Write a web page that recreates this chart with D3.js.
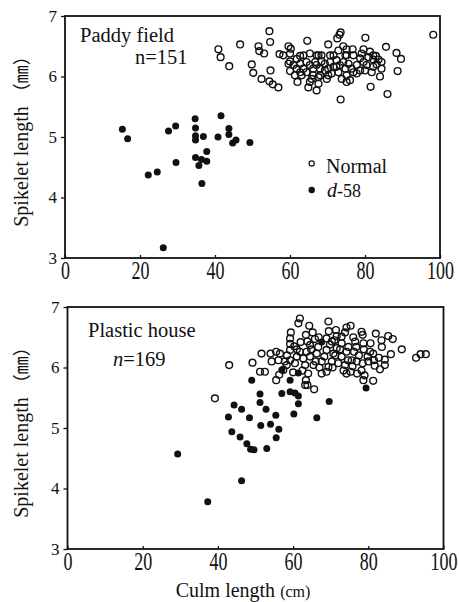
<!DOCTYPE html>
<meta charset="utf-8" />
<html>
<style>
  body { margin: 0; background: #fff; }
  text { font-family: "Liberation Serif", "DejaVu Serif", serif; fill: #111; }
</style>
<body>
<svg width="459" height="602"></svg>
<script src="https://d3js.org/d3.v7.min.js"></script>
<script>
  // ---- data: [culm length (cm), spikelet length (mm)] ----
  var paddyNormal = [
    [40.9,6.45],[41.5,6.32],[43.8,6.17],[46.7,6.53],[51.6,6.50],[51.8,6.42],[53.1,6.38],
    [54.5,6.75],[54.7,6.57],[49.8,6.20],[50.2,6.06],[54.8,6.10],[52.4,5.96],[54.5,5.92],
    [55.4,5.87],[56.9,5.82],[57.2,6.37],[58.2,6.35],[59.6,6.50],[60.2,6.46],[60.0,6.38],
    [64.6,6.59],[62.7,6.34],[65.3,6.38],[67.6,6.35],[70.2,6.53],[70.7,6.35],[72.6,6.63],
    [73.2,6.69],[73.5,6.73],[74.2,6.50],[75.1,6.45],[76.7,6.45],[80.1,6.64],[79.6,6.45],
    [81.3,6.41],[82.2,6.28],[82.9,6.34],[85.6,6.49],[88.4,6.39],[89.6,6.29],[88.7,6.09],
    [84.4,6.13],[84.0,6.00],[81.5,5.83],[86.0,5.71],[73.5,5.62],[67.1,5.77],[64.9,5.82],
    [62.0,5.91],[59.6,6.21],[60.0,6.09],[61.8,6.13],[62.7,6.21],[64.4,6.24],[66.7,6.24],
    [68.4,6.25],[70.7,6.24],[72.4,6.27],[74.2,6.24],[76.4,6.13],[77.8,6.19],[79.6,6.24],
    [80.9,6.32],[83.1,6.20],[60.0,6.25],[61.3,6.02],[63.1,6.02],[64.4,6.07],[66.2,6.13],
    [67.6,5.99],[69.3,6.10],[71.1,6.05],[72.9,6.07],[75.1,6.02],[75.1,5.91],[76.9,6.07],
    [78.7,6.10],[80.4,6.19],[82.2,6.16],[67.6,5.88],[69.8,5.96],[71.6,6.16],[65.8,5.96],
    [63.6,6.13],[78.7,6.30],[82.2,6.35],[74.8,6.35],[74.8,6.13],[68.0,6.13],[67.1,6.35],
    [98.2,6.69],[60.9,6.19],[65.3,6.19],[69.3,6.21],[73.3,6.19],[75.6,6.21],[61.8,6.29],
    [63.6,6.35],[68.4,6.35],[71.6,6.35],[72.9,6.43],[75.1,6.35],[76.9,6.35],[79.1,6.38],
    [83.6,6.28],[84.4,6.24],[66.2,6.02],[68.0,6.02],[70.2,6.02],[73.8,5.96],[76.0,5.94],
    [77.8,6.05],[80.0,6.10],[81.8,6.07],[65.3,5.91],[62.7,6.07],[72.4,6.16],[70.2,6.13],
    [67.1,6.19]
  ];
  var paddyD58 = [
    [15.3,5.13],[16.7,4.97],[27.6,5.10],[29.5,5.18],[34.7,5.30],[41.6,5.35],[34.8,5.15],
    [34.8,5.02],[34.8,4.95],[36.9,5.01],[40.8,5.00],[43.7,5.14],[43.7,5.04],[45.6,4.95],
    [44.7,4.90],[49.3,4.91],[37.8,4.76],[34.8,4.66],[36.4,4.63],[37.8,4.60],[35.7,4.53],
    [29.6,4.58],[24.6,4.42],[22.2,4.37],[36.5,4.23],[26.2,3.17]
  ];
  var houseNormal = [
    [39.2,5.49],[43.0,6.04],[49.2,6.08],[51.6,6.23],[51.2,5.93],[52.5,5.93],[54.0,6.23],
    [55.5,6.26],[56.5,6.23],[54.3,6.10],[56.1,6.12],[55.5,5.79],[56.3,5.88],[61.8,6.81],
    [61.4,6.73],[64.3,6.69],[69.4,6.76],[59.4,6.58],[59.2,6.48],[59.2,6.39],[59.2,6.29],
    [59.2,6.12],[63.4,6.54],[63.8,6.43],[64.5,6.37],[63.4,5.79],[63.8,5.71],[65.6,5.64],
    [71.4,6.62],[71.6,6.52],[74.2,6.66],[75.3,6.69],[78.2,6.59],[78.5,6.54],[82.0,6.56],
    [85.3,6.52],[86.5,6.47],[88.9,6.30],[83.6,6.34],[81.3,6.23],[84.4,6.13],[84.4,6.04],
    [83.1,5.97],[92.7,6.16],[93.9,6.22],[95.3,6.22],[81.3,5.78],[78.7,5.79],[78.2,5.95],
    [78.5,6.07],[75.3,5.93],[74.2,5.90],[75.6,6.12],[76.2,6.26],[78.7,6.40],[80.5,6.26],
    [68.9,5.93],[69.4,6.01],[67.6,5.90],[66.3,6.23],[67.6,6.10],[70.3,6.10],[72.0,6.07],
    [72.9,6.18],[70.7,6.23],[68.9,6.29],[68.9,6.48],[70.3,6.43],[72.9,6.40],[74.7,6.34],
    [76.5,6.43],[72.9,6.51],[66.7,6.34],[64.5,6.18],[62.7,6.15],[61.0,6.18],[61.8,6.26],
    [63.6,6.26],[60.5,6.07],[58.3,6.04],[57.4,5.96],[65.4,6.04],[63.2,6.04],[65.8,6.47],
    [61.0,6.30],[73.8,6.04],[76.9,6.10],[80.0,6.10],[81.5,6.12],[74.2,6.26],[71.6,6.32],
    [60.3,6.35],[62.0,6.42],[64.8,6.30],[66.0,6.10],[67.0,6.00],[68.3,6.18],[69.8,6.38],
    [70.5,6.00],[71.2,6.20],[72.5,6.30],[73.4,5.95],[74.6,6.12],[75.8,6.02],[76.8,6.34],
    [77.5,6.20],[78.8,6.30],[79.8,6.18],[80.6,6.40],[81.7,6.03],[82.8,6.16],[83.5,6.45],
    [58.4,6.20],[60.0,5.92],[62.5,5.95],[64.0,5.90],[66.8,6.50],[69.5,6.60],[71.0,6.45],
    [73.8,6.58],[76.0,6.50],[77.0,5.90],[79.0,5.87],[86.0,6.22],[57.8,6.10],[65.2,6.58],
    [63.2,5.71]
  ];
  var houseD58 = [
    [51.2,5.56],[51.2,5.42],[57.0,5.57],[59.2,5.60],[60.5,5.58],[61.4,5.53],[61.4,5.40],
    [69.6,5.44],[44.3,5.38],[46.3,5.31],[42.8,5.18],[48.4,5.17],[52.8,5.31],[55.4,5.21],
    [60.2,5.23],[66.3,5.17],[51.4,5.04],[54.0,5.06],[56.2,4.98],[43.7,4.94],[45.9,4.85],
    [47.7,4.74],[48.7,4.65],[49.6,4.64],[53.0,4.66],[55.5,4.84],[46.3,4.13],[37.3,3.78],
    [29.3,4.57],[67.6,6.42],[57.0,5.96],[61.4,5.91],[49.0,5.79],[59.2,5.79],[79.4,5.66]
  ];
  var xTicks = [0, 20, 40, 60, 80, 100];
  var yTicks = [3, 4, 5, 6, 7];

  var svg = d3.select("svg");

  // panel boxes (pixels)
  var panels = [
    { box: {l: 65, r: 440, t: 16, b: 258}, normal: paddyNormal, d58: paddyD58 },
    { box: {l: 67.5, r: 443.5, t: 307, b: 549}, normal: houseNormal, d58: houseD58 }
  ];

  panels.forEach(function (p) {
    var b = p.box;
    var x = d3.scaleLinear().domain([0, 100]).range([b.l, b.r]);
    var y = d3.scaleLinear().domain([3, 7]).range([b.b, b.t]);

    var g = svg.append("g");

    // left axis, ticks outward
    var ya = g.append("g")
      .attr("transform", "translate(" + b.l + ",0)")
      .call(d3.axisLeft(y).tickValues(yTicks).tickSize(4).tickPadding(4).tickFormat(d3.format("d")));
    ya.select(".domain").remove();
    ya.selectAll("line").attr("stroke", "#111").attr("stroke-width", 1.3);
    ya.selectAll("text").attr("font-size", 17).style("font-family", "Liberation Serif");

    // bottom axis, ticks inward, tall condensed labels
    var xa = g.append("g")
      .attr("transform", "translate(0," + b.b + ")")
      .call(d3.axisBottom(x).tickValues(xTicks).tickSizeInner(-3).tickSizeOuter(0).tickPadding(0));
    xa.select(".domain").remove();
    xa.selectAll("line").attr("stroke", "#111").attr("stroke-width", 1.3);
    xa.selectAll("text")
      .attr("font-size", 18)
      .style("font-family", "Liberation Serif")
      .attr("y", 4 / 1.35)
      .attr("dy", "0.71em")
      .attr("transform", "scale(1,1.35)");

    // frame
    g.append("rect")
      .attr("x", b.l).attr("y", b.t)
      .attr("width", b.r - b.l).attr("height", b.b - b.t)
      .attr("fill", "none").attr("stroke", "#111").attr("stroke-width", 1.8);

    // Normal: open circles
    g.append("g").selectAll("circle")
      .data(p.normal).enter().append("circle")
      .attr("cx", function (d) { return x(d[0]); })
      .attr("cy", function (d) { return y(d[1]); })
      .attr("r", 3.4)
      .attr("fill", "none")
      .attr("stroke", "#111")
      .attr("stroke-width", 1.4);

    // d-58: filled dots
    g.append("g").selectAll("circle")
      .data(p.d58).enter().append("circle")
      .attr("cx", function (d) { return x(d[0]); })
      .attr("cy", function (d) { return y(d[1]); })
      .attr("r", 3.5)
      .attr("fill", "#111");

    // y axis title
    var cy = (b.t + b.b) / 2;
    var yt = svg.append("text")
      .attr("transform", "translate(28," + cy + ") rotate(-90)")
      .attr("text-anchor", "middle")
      .attr("font-size", 20);
    yt.append("tspan").text("Spikelet length ");
    yt.append("tspan").style("font-family", "Noto Sans CJK JP").attr("font-size", 18).text("（㎜）");
  });

  // panel annotations
  svg.append("text").attr("x", 80).attr("y", 42).attr("font-size", 20.5).text("Paddy field");
  svg.append("text").attr("x", 135).attr("y", 64).attr("font-size", 20.5).text("n=151");

  svg.append("text").attr("x", 88).attr("y", 337).attr("font-size", 20.5).text("Plastic house");
  var n2 = svg.append("text").attr("x", 113).attr("y", 366).attr("font-size", 20.5);
  n2.append("tspan").style("font-style", "italic").text("n");
  n2.append("tspan").text("=169");

  // legend (top panel)
  svg.append("circle").attr("cx", 311.7).attr("cy", 163.5).attr("r", 2.6)
    .attr("fill", "none").attr("stroke", "#111").attr("stroke-width", 1.2);
  svg.append("text").attr("x", 326).attr("y", 173).attr("font-size", 20).text("Normal");
  svg.append("circle").attr("cx", 311.7).attr("cy", 190).attr("r", 3.2).attr("fill", "#111");
  var lg = svg.append("text").attr("x", 327).attr("y", 197).attr("font-size", 20);
  lg.append("tspan").style("font-style", "italic").text("d");
  lg.append("tspan").attr("font-size", 18).text("-58");

  // x axis title
  var xt = svg.append("text").attr("x", 243).attr("y", 597)
    .attr("text-anchor", "middle").attr("font-size", 20);
  xt.append("tspan").text("Culm length ");
  xt.append("tspan").attr("font-size", 16).text("(cm)");
</script>
</body>
</html>
